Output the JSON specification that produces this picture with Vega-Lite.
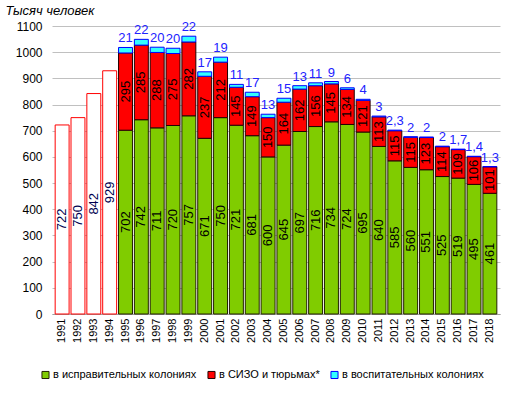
{
  "$schema": "https://vega.github.io/schema/vega-lite/v6.json",
  "width": 448,
  "height": 288,
  "autosize": {"type": "none"},
  "padding": {"left": 52, "top": 26, "right": 12, "bottom": 79},
  "background": "white",
  "config": {
    "font": "Liberation Sans",
    "view": {"stroke": null},
    "axis": {"labelFont": "Liberation Sans", "titleFont": "Liberation Sans"},
    "axisY": {
      "tickCount": 11, "format": "d", "labelOverlap": false,
      "titleAngle": 0, "titleAlign": "left", "titleBaseline": "middle",
      "titleX": -47, "titleY": -16, "titleFontStyle": "italic", "titleFontWeight": "normal", "titleFontSize": 13, "titleColor": "#000",
      "labelFontSize": 12, "labelColor": "#000", "labelPadding": 10, "ticks": false, "domain": false,
      "grid": true, "gridColor": "#c0c0c0", "gridWidth": 1
    }
  },
  "data": {"values": [
    {"year":"1991","cat":"всего","value":722},
    {"year":"1992","cat":"всего","value":750},
    {"year":"1993","cat":"всего","value":842},
    {"year":"1994","cat":"всего","value":929},
    {"year":"1995","cat":"в исправительных колониях","value":702},{"year":"1995","cat":"в СИЗО и тюрьмах*","value":295},{"year":"1995","cat":"в воспитательных колониях","value":21,"label":"21"},
    {"year":"1996","cat":"в исправительных колониях","value":742},{"year":"1996","cat":"в СИЗО и тюрьмах*","value":285},{"year":"1996","cat":"в воспитательных колониях","value":22,"label":"22"},
    {"year":"1997","cat":"в исправительных колониях","value":711},{"year":"1997","cat":"в СИЗО и тюрьмах*","value":288},{"year":"1997","cat":"в воспитательных колониях","value":20,"label":"20"},
    {"year":"1998","cat":"в исправительных колониях","value":720},{"year":"1998","cat":"в СИЗО и тюрьмах*","value":275},{"year":"1998","cat":"в воспитательных колониях","value":20,"label":"20"},
    {"year":"1999","cat":"в исправительных колониях","value":757},{"year":"1999","cat":"в СИЗО и тюрьмах*","value":282},{"year":"1999","cat":"в воспитательных колониях","value":22,"label":"22"},
    {"year":"2000","cat":"в исправительных колониях","value":671},{"year":"2000","cat":"в СИЗО и тюрьмах*","value":237},{"year":"2000","cat":"в воспитательных колониях","value":17,"label":"17"},
    {"year":"2001","cat":"в исправительных колониях","value":750},{"year":"2001","cat":"в СИЗО и тюрьмах*","value":212},{"year":"2001","cat":"в воспитательных колониях","value":19,"label":"19"},
    {"year":"2002","cat":"в исправительных колониях","value":721},{"year":"2002","cat":"в СИЗО и тюрьмах*","value":145},{"year":"2002","cat":"в воспитательных колониях","value":11,"label":"11"},
    {"year":"2003","cat":"в исправительных колониях","value":681},{"year":"2003","cat":"в СИЗО и тюрьмах*","value":149},{"year":"2003","cat":"в воспитательных колониях","value":17,"label":"17"},
    {"year":"2004","cat":"в исправительных колониях","value":600},{"year":"2004","cat":"в СИЗО и тюрьмах*","value":150},{"year":"2004","cat":"в воспитательных колониях","value":13,"label":"13"},
    {"year":"2005","cat":"в исправительных колониях","value":645},{"year":"2005","cat":"в СИЗО и тюрьмах*","value":164},{"year":"2005","cat":"в воспитательных колониях","value":15,"label":"15"},
    {"year":"2006","cat":"в исправительных колониях","value":697},{"year":"2006","cat":"в СИЗО и тюрьмах*","value":162},{"year":"2006","cat":"в воспитательных колониях","value":13,"label":"13"},
    {"year":"2007","cat":"в исправительных колониях","value":716},{"year":"2007","cat":"в СИЗО и тюрьмах*","value":156},{"year":"2007","cat":"в воспитательных колониях","value":11,"label":"11"},
    {"year":"2008","cat":"в исправительных колониях","value":734},{"year":"2008","cat":"в СИЗО и тюрьмах*","value":145},{"year":"2008","cat":"в воспитательных колониях","value":9,"label":"9"},
    {"year":"2009","cat":"в исправительных колониях","value":724},{"year":"2009","cat":"в СИЗО и тюрьмах*","value":134},{"year":"2009","cat":"в воспитательных колониях","value":6,"label":"6"},
    {"year":"2010","cat":"в исправительных колониях","value":695},{"year":"2010","cat":"в СИЗО и тюрьмах*","value":121},{"year":"2010","cat":"в воспитательных колониях","value":4,"label":"4"},
    {"year":"2011","cat":"в исправительных колониях","value":640},{"year":"2011","cat":"в СИЗО и тюрьмах*","value":113},{"year":"2011","cat":"в воспитательных колониях","value":3,"label":"3"},
    {"year":"2012","cat":"в исправительных колониях","value":585},{"year":"2012","cat":"в СИЗО и тюрьмах*","value":115},{"year":"2012","cat":"в воспитательных колониях","value":2.3,"label":"2,3"},
    {"year":"2013","cat":"в исправительных колониях","value":560},{"year":"2013","cat":"в СИЗО и тюрьмах*","value":115},{"year":"2013","cat":"в воспитательных колониях","value":2,"label":"2"},
    {"year":"2014","cat":"в исправительных колониях","value":551},{"year":"2014","cat":"в СИЗО и тюрьмах*","value":123},{"year":"2014","cat":"в воспитательных колониях","value":2,"label":"2"},
    {"year":"2015","cat":"в исправительных колониях","value":525},{"year":"2015","cat":"в СИЗО и тюрьмах*","value":114},{"year":"2015","cat":"в воспитательных колониях","value":2,"label":"2"},
    {"year":"2016","cat":"в исправительных колониях","value":519},{"year":"2016","cat":"в СИЗО и тюрьмах*","value":109},{"year":"2016","cat":"в воспитательных колониях","value":1.7,"label":"1,7"},
    {"year":"2017","cat":"в исправительных колониях","value":495},{"year":"2017","cat":"в СИЗО и тюрьмах*","value":106},{"year":"2017","cat":"в воспитательных колониях","value":1.4,"label":"1,4"},
    {"year":"2018","cat":"в исправительных колониях","value":461},{"year":"2018","cat":"в СИЗО и тюрьмах*","value":101},{"year":"2018","cat":"в воспитательных колониях","value":1.3,"label":"1,3"}
  ]},
  "transform": [
    {"calculate": "indexof(['всего','в исправительных колониях','в СИЗО и тюрьмах*','в воспитательных колониях'], datum.cat)", "as": "ord"},
    {"stack": "value", "groupby": ["year"], "sort": [{"field": "ord", "order": "ascending"}], "as": ["y0", "y1"]},
    {"calculate": "(datum.y0 + datum.y1) / 2", "as": "mid"}
  ],
  "encoding": {
    "x": {
      "field": "year", "type": "nominal", "title": null,
      "scale": {"paddingInner": 0.12, "paddingOuter": 0.2},
      "axis": {"labelAngle": -90, "labelFontSize": 11, "labelColor": "#000", "ticks": false, "domainColor": "#a0a0a0", "labelPadding": 4, "grid": false}
    }
  },
  "layer": [
    {
      "mark": {"type": "bar", "strokeWidth": 1},
      "encoding": {
        "y": {
          "field": "y0", "type": "quantitative",
          "scale": {"domain": [0, 1100], "nice": false},
          "title": "Тысяч  человек"
        },
        "y2": {"field": "y1"},
        "color": {
          "field": "cat", "type": "nominal",
          "scale": {"domain": ["в исправительных колониях", "в СИЗО и тюрьмах*", "в воспитательных колониях", "всего"], "range": ["#80cc00", "#ff0000", "#33ffff", "#ffffff"]},
          "legend": {
            "values": ["в исправительных колониях", "в СИЗО и тюрьмах*", "в воспитательных колониях"],
            "title": null, "orient": "none", "direction": "horizontal", "legendX": -12, "legendY": 343,
            "symbolType": "square", "symbolSize": 50, "symbolStrokeColor": "#000", "symbolStrokeWidth": 1,
            "labelFontSize": 11, "labelColor": "#000", "columnPadding": 8, "labelOffset": 2, "symbolOpacity": 1
          }
        },
        "stroke": {
          "field": "cat", "type": "nominal",
          "scale": {"domain": ["в исправительных колониях", "в СИЗО и тюрьмах*", "в воспитательных колониях", "всего"], "range": ["#222200", "#220000", "#0000ff", "#ff0000"]},
          "legend": null
        }
      }
    },
    {
      "transform": [{"filter": "datum.cat !== 'в воспитательных колониях'"}],
      "mark": {"type": "text", "angle": 270, "align": "center", "baseline": "middle", "fontSize": 13},
      "encoding": {
        "y": {"field": "mid", "type": "quantitative", "title": "Тысяч  человек"},
        "text": {"field": "value", "type": "quantitative"},
        "fill": {"condition": {"test": "datum.cat === 'всего'", "value": "#000050"}, "value": "#000000"}
      }
    },
    {
      "transform": [{"filter": "datum.cat === 'в воспитательных колониях'"}],
      "mark": {"type": "text", "align": "center", "baseline": "bottom", "dy": -2, "fontSize": 13, "fill": "#2222ff"},
      "encoding": {
        "y": {"field": "y1", "type": "quantitative", "title": "Тысяч  человек"},
        "text": {"field": "label", "type": "nominal"}
      }
    }
  ]
}
